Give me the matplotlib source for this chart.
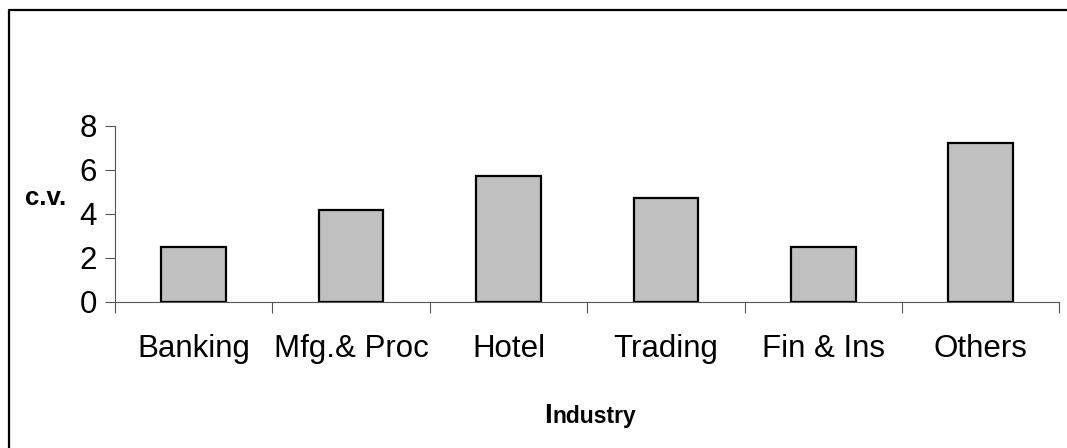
import matplotlib.pyplot as plt
import numpy as np
from matplotlib.lines import Line2D

industries = ["Banking", "Mfg.& Proc", "Hotel", "Trading", "Fin & Ins", "Others"]
cv_values = [2.48, 4.18, 5.73, 4.72, 2.48, 7.22]
y_ticks = [0, 2, 4, 6, 8]

plt.rcParams["font.family"] = ["Liberation Sans", "DejaVu Sans"]

fig = plt.figure(figsize=(10.67, 4.48), dpi=100)
ax = fig.add_axes([0.1078, 0.326, 0.885, 0.3928])

x = np.arange(len(industries))
ax.bar(x, cv_values, width=0.41, color="#c0c0c0", edgecolor="black", linewidth=1.6, zorder=3)

ax.set_xlim(-0.5, len(industries) - 0.5)
ax.set_ylim(0, 8)
ax.set_yticks(y_ticks)
ax.tick_params(axis="y", labelsize=22.5, length=7, width=0.8, color="#555555", pad=6)

# ticks at category boundaries, labels at category centres
ax.set_xticks(np.arange(len(industries) + 1) - 0.5)
ax.set_xticklabels([])
ax.set_xticks(x, minor=True)
ax.set_xticklabels(industries, minor=True)
ax.tick_params(axis="x", which="major", length=8, width=0.8, color="#555555")
ax.tick_params(axis="x", which="minor", length=0, labelsize=22.5, pad=23)

for side in ("top", "right"):
    ax.spines[side].set_visible(False)
for side in ("left", "bottom"):
    ax.spines[side].set_color("#555555")
    ax.spines[side].set_linewidth(0.8)

fig.text(46 / 1067, 1 - 198 / 448, "c.v.", fontsize=18.5, fontweight="bold",
         ha="center", va="center")

t1 = fig.text(544 / 1067, 1 - 423 / 448, "I", fontsize=20, fontweight="bold",
              ha="left", va="baseline")
ax.annotate("ndustry", xy=(1, 0), xycoords=t1, xytext=(0.5, 4.3),
            textcoords="offset points", fontsize=16.5, fontweight="bold",
            ha="left", va="baseline", annotation_clip=False)

# outer chart border (top and left visible)
bx = 8.5 / 1067
by = 1 - 10.5 / 448
fig.add_artist(Line2D([bx, bx, 1.0], [0.0, by, by], transform=fig.transFigure,
                      color="black", linewidth=1.6))

fig.savefig("out.png", dpi=100)
